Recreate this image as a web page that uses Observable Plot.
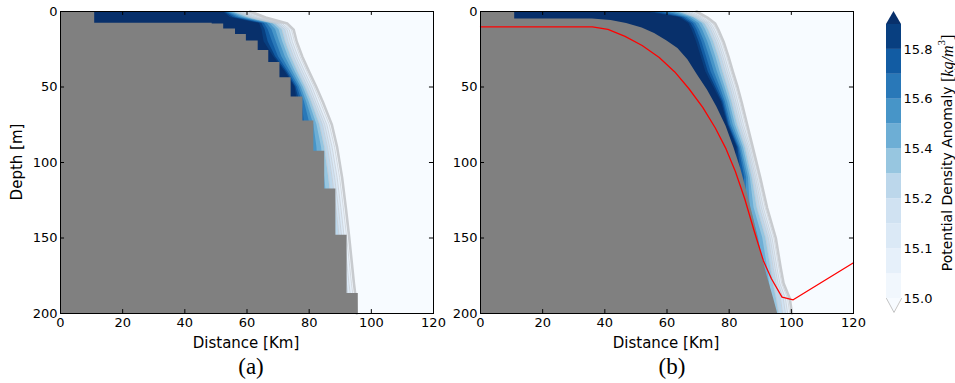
<!DOCTYPE html>
<html><head><meta charset="utf-8">
<script src="https://cdn.jsdelivr.net/npm/d3@7"></script>
<script src="https://cdn.jsdelivr.net/npm/@observablehq/plot@0.6"></script>
<style>
body{margin:0;background:#fff;}
#fig{position:relative;width:955px;height:383px;font-family:"DejaVu Sans",sans-serif;color:#000;overflow:hidden;background:#fff;}
#fig svg{position:absolute;overflow:visible;}
.lab{position:absolute;font-size:15px;white-space:nowrap;transform:translate(-50%,-50%);}
.sub{position:absolute;font-family:"Liberation Serif",serif;font-size:23px;transform:translate(-50%,-50%);}
</style></head><body><div id="fig"></div>
<script>
// contour levels (kg/m^3) and depth grid (m)
const levels = [15.0,15.05,15.1,15.15,15.2,15.3,15.4,15.5,15.6,15.7,15.8,15.9];
const depths = [0,4,8,12,20,30,40,50,60,75,90,110,130,150,170,180,190,200];

// panel (a): distance (km) of each isoline at each depth
const isoA_1500 = [61,66,73,75,76,77.8,80,82.3,84.4,87.3,89,90.6,91.8,92.9,93.9,94.4,95,95.3];
const isoA_1505 = [60,65,72.2,74.3,75.3,77.1,79.3,81.6,83.6,86.5,88.2,89.8,91,92.1,93.1,93.6,94.2,94.5];
const isoA_1510 = [59,64,71.4,73.6,74.6,76.4,78.6,80.9,82.8,85.7,87.4,89,90.2,91.3,92.3,92.8,93.4,93.7];
const isoA_1515 = [58,63,70.7,72.9,73.9,75.7,77.9,80.2,82.1,85,86.6,88.2,89.4,90.5,91.5,92,92.6,92.9];
const isoA_1520 = [57,62,70,72.2,73.2,75,77.2,79.5,81.5,84.3,85.9,87.4,88.6,89.7,90.7,91.2,91.8,92.1];
const isoA_1530 = [56,61,69.2,71.3,72.4,74.2,76.4,78.8,80.8,83.4,85,86.3,87.4,88.4,89.4,89.9,90.5,90.8];
const isoA_1540 = [55,59.8,68.3,70.3,71.5,73.3,75.6,78.1,80,82.5,84,85,86,87,88,88.5,89,89];
const isoA_1550 = [54.2,58.7,67.4,69.2,70.5,72.3,74.8,77.4,79.2,81.5,82.5,83,84,85,86,86,86,86];
const isoA_1560 = [53.5,57.6,66.5,68,69.4,71.2,74,76.8,78.5,80.3,80.5,80,80,80,80,80,80,80];
const isoA_1570 = [53,56.6,65.6,66.8,68.2,70.1,73.3,76.2,77.8,78.5,78,76,76,76,76,76,76,76];
const isoA_1580 = [52.6,55.6,64.8,65.8,66.8,69.2,72.8,75.7,77,76,74,72,72,72,72,72,72,72];
const isoA_1590 = [52.3,54.6,64,64.8,65.5,68.6,72.3,75.4,76.2,74,70,68,68,68,68,68,68,68];

// panel (b)
const isoB_1500 = [69.5,73,75.5,76.5,78.2,79.8,81.2,82.7,84,85.8,87.6,90,92.2,95,96.6,97.5,99.5,100.2];
const isoB_1505 = [68.5,72.2,74.8,75.9,77.6,79.2,80.6,82.1,83.4,85.2,87.2,89.5,91.6,94.4,96,96.9,98.8,99.5];
const isoB_1510 = [67.5,71.5,74.2,75.3,77,78.6,80,81.5,82.8,84.6,86.8,89,91,93.8,95.4,96.3,98.1,98.8];
const isoB_1515 = [66.5,70.8,73.6,74.7,76.4,78,79.4,80.9,82.2,84,86.3,88.5,90.4,93.2,94.8,95.7,97.4,98.1];
const isoB_1520 = [65.5,70.1,73,74.1,75.8,77.4,78.8,80.3,81.6,83.4,85.8,88,89.8,92.6,94.2,95.1,96.5,97.2];
const isoB_1530 = [64.3,69.3,72.2,73.3,75,76.6,78,79.5,80.9,82.7,85.2,87.4,89,91.8,93.4,94.2,95.2,96];
const isoB_1540 = [63,68.5,71.3,72.4,74.1,75.7,77.1,78.7,80.2,82,84.6,86.8,88,90.8,92.4,93,93.8,94.5];
const isoB_1550 = [61.5,67.5,70.3,71.4,73.1,74.7,76.2,77.9,79.5,81.3,84,86.2,86.8,89.5,91,91.8,92.5,93];
const isoB_1560 = [59.5,66.5,69.3,70.4,72.1,73.7,75.2,77.1,78.8,80.6,83.5,85.6,85.5,88,89.5,90.3,91,91];
const isoB_1570 = [57,65.6,68.5,69.6,71.2,72.7,74.2,76.3,78.3,80.1,83.1,85,84,86,87,88,88,88];
const isoB_1580 = [54.5,64.8,67.7,68.8,70.3,71.8,73.3,75.6,77.9,79.8,82.8,84,82,83,83,83,83,83];
const isoB_1590 = [52.5,64,67,68,69.5,71,72.5,75,77.5,79.5,82.5,82,78,78,78,78,78,78];

// topography (a): stepped, start distance (km) and top depth (m) of each step
const topoA_x   = [0,11,48.8,52.5,56.3,59.8,63.6,67.0,70.6,74.2,78.0,81.5,85.0,88.6,92.2,95.8];
const topoA_top = [0,7.7,8.3,11.6,15.3,19.6,25.8,33.7,43.9,56.7,72.5,92.6,117.5,148.2,186.8,200];

// topography (b): smooth slope
const topoB_x   = [0,11,11,36,42,47,52,56,60,63.5,66.7,69.8,73,76,79,81.5,83.7,85.8,88,90,92.2,94.3,95.6];
const topoB_top = [0,0,4.9,5,6,8,11,14.5,19.5,24.5,32,42,52,63,76,90,104,120,138,157,175,190,200];

// red reference profile (b)
const red_x = [0,36,41,46.5,52,57.5,62.5,67,71.5,75.5,79,82,85,88,91,93.6,97,100.6,120];
const red_d = [10.2,10.2,11.8,16.5,22.5,30.5,40,51,63.5,77,91,106,124,145,165,177,189.2,190.9,166.4];

const xTicks = [0,20,40,60,80,100,120];
const yTicks = [0,50,100,150,200];

const isoA = [isoA_1500,isoA_1505,isoA_1510,isoA_1515,isoA_1520,isoA_1530,isoA_1540,isoA_1550,isoA_1560,isoA_1570,isoA_1580,isoA_1590];
const isoB = [isoB_1500,isoB_1505,isoB_1510,isoB_1515,isoB_1520,isoB_1530,isoB_1540,isoB_1550,isoB_1560,isoB_1570,isoB_1580,isoB_1590];

const colorOpts = {type: "linear", scheme: "blues", domain: [levels[0], levels[levels.length - 1]]};
const bandValue = i => i < levels.length - 1 ? (levels[i] + levels[i + 1]) / 2 : levels[i];

function panel(iso, topoX, topoTop, stepped, red) {
  const rows = [];
  iso.forEach((xs, i) => xs.forEach((x, k) => rows.push({lev: levels[i], v: bandValue(i), depth: depths[k], x})));
  const topo = topoX.map((x, i) => ({x, top: topoTop[i]}));
  const marks = [
    Plot.rect([{v: levels[0]}], {x1: 0, x2: 120, y1: 0, y2: 200, fill: "v"}),
    Plot.areaX(rows, {y: "depth", x1: 0, x2: "x", z: "lev", fill: "v"}),
    Plot.lineX(rows.filter(r => r.lev > 15.0 && r.lev <= 15.3), {x: "x", y: "depth", z: "lev", stroke: "#c3c8ce", strokeWidth: 0.7, strokeOpacity: 0.9}),
    Plot.lineX(rows.filter(r => r.lev === 15.0), {x: "x", y: "depth", stroke: "#c8cbcf", strokeWidth: 2.6}),
    Plot.areaY(topo, {x: "x", y1: "top", y2: 200, fill: "#808080", curve: stepped ? "step-after" : "linear"})
  ];
  if (red) marks.push(Plot.line(red_x.map((x, i) => ({x, d: red_d[i]})), {x: "x", y: "d", stroke: "#ff0000", strokeWidth: 1.3}));
  marks.push(
    Plot.ruleX(xTicks, {x: d => d, y1: 0, y2: 2.6, stroke: "black"}),
    Plot.ruleX(xTicks, {x: d => d, y1: 197.4, y2: 200, stroke: "black"}),
    Plot.ruleY(yTicks, {y: d => d, x1: 0, x2: 1.3, stroke: "black"}),
    Plot.ruleY(yTicks, {y: d => d, x1: 118.7, x2: 120, stroke: "black"}),
    Plot.frame({stroke: "black", strokeWidth: 1})
  );
  return Plot.plot({
    width: 440, height: 350,
    marginLeft: 60, marginRight: 7, marginTop: 11, marginBottom: 37,
    style: {fontFamily: "DejaVu Sans, sans-serif", fontSize: "13px", color: "black", background: "transparent"},
    x: {domain: [0, 120], ticks: 6, tickSize: 0, tickPadding: 4, label: null},
    y: {domain: [0, 200], reverse: true, ticks: 4, tickSize: 0, tickPadding: 3, label: null},
    color: colorOpts,
    marks
  });
}

const fig = document.getElementById("fig");
const pa = panel(isoA, topoA_x, topoA_top, true, false);
pa.style.left = "0px"; pa.style.top = "0px";
fig.appendChild(pa);
const pb = panel(isoB, topoB_x, topoB_top, false, true);
pb.style.left = "420px"; pb.style.top = "0px";
fig.appendChild(pb);

// colorbar
const nb = levels.length - 1;
const cbBands = levels.slice(0, -1).map((l, i) => ({i0: i, i1: i + 1, v: bandValue(i)}));
const triTop = [{x: 0, y: nb, v: levels[nb]}, {x: 0.5, y: nb + 0.52, v: levels[nb]}, {x: 1, y: nb, v: levels[nb]}];
const triBot = [{x: 0, y: 0, v: levels[0]}, {x: 0.5, y: -0.56, v: levels[0]}, {x: 1, y: 0, v: levels[0]}];
const cb = Plot.plot({
  width: 95, height: 383,
  marginLeft: 26, marginRight: 54, marginTop: 24, marginBottom: 85,
  style: {fontFamily: "DejaVu Sans, sans-serif", fontSize: "13px", color: "black", background: "transparent"},
  x: {domain: [0, 1], axis: null},
  y: {domain: [0, nb], axis: "right", ticks: 6, tickFormat: i => levels[i].toFixed(1), tickSize: 0, tickPadding: 2, label: null},
  color: colorOpts,
  marks: [
    Plot.rect(cbBands, {x1: 0, x2: 1, y1: "i0", y2: "i1", fill: "v"}),
    Plot.areaY(triTop, {x: "x", y1: nb, y2: "y", fill: "v"}),
    Plot.areaY(triBot, {x: "x", y1: 0, y2: "y", fill: "v"}),
    Plot.line(triBot, {x: "x", y: "y", stroke: "#b5b5b5", strokeWidth: 0.8})
  ]
});
cb.style.left = "860px"; cb.style.top = "0px";
fig.appendChild(cb);
const t = d3.select(cb).append("text")
  .attr("transform", "translate(87,153) rotate(-90)")
  .attr("text-anchor", "middle").attr("dominant-baseline", "central")
  .attr("font-family", "DejaVu Sans, sans-serif").attr("font-size", 14).attr("fill", "black");
t.append("tspan").text("Potential Density Anomaly ");
const m = t.append("tspan").attr("font-family", "Liberation Serif, serif").attr("font-size", 16);
m.append("tspan").text("[");
m.append("tspan").attr("font-style", "italic").text("kg/m");
m.append("tspan").attr("font-size", 11).attr("dy", -6).text("3");
m.append("tspan").attr("dy", 6).text("]");

// text labels
function label(cls, text, x, y, rot) {
  const d = document.createElement("div");
  d.className = cls; d.textContent = text;
  d.style.left = x + "px"; d.style.top = y + "px";
  if (rot) d.style.transform = "translate(-50%,-50%) rotate(-90deg)";
  fig.appendChild(d);
}
label("lab", "Depth [m]", 17, 162, true);
label("lab", "Distance [Km]", 246, 343);
label("lab", "Distance [Km]", 666, 343);
label("sub", "(a)", 251, 367);
label("sub", "(b)", 672, 367);
</script></body></html>
